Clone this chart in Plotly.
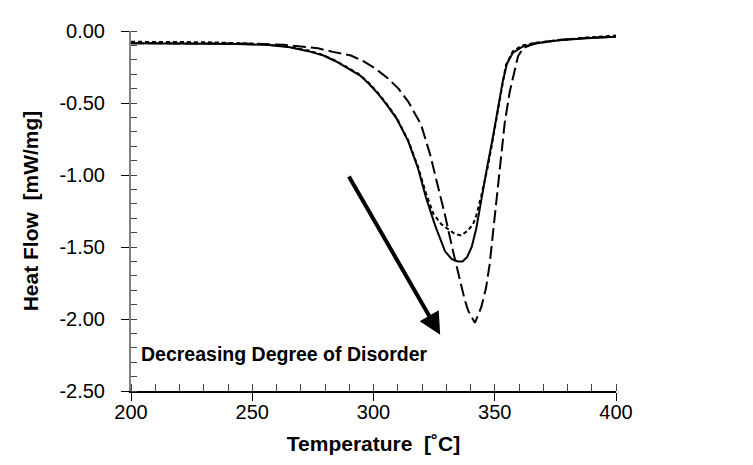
import plotly.graph_objects as go

# ---- data ----
solid_T = [200, 225.2, 244.1, 256.7, 265.5, 273.1, 279.4, 284.4, 289.5, 294.5, 298.3, 302.1, 305.8,
           309.6, 314.3, 318.3, 321.7, 325.4, 329.5, 332.3, 334.8, 336.7, 338.6, 340.5, 342.4, 344.5,
           346.8, 349.1, 351.2, 353.3, 355.0, 357.5, 361.3, 367.6, 376.4, 388, 400]
solid_HF = [-0.085, -0.086, -0.09, -0.098, -0.113, -0.14, -0.17, -0.21, -0.26, -0.31, -0.37, -0.44,
            -0.52, -0.61, -0.765, -0.95, -1.16, -1.35, -1.53, -1.585, -1.60, -1.60, -1.57, -1.50,
            -1.37, -1.16, -0.95, -0.75, -0.55, -0.35, -0.23, -0.15, -0.11, -0.085, -0.065, -0.05,
            -0.04]

dot_T = [200, 231.5, 250.4, 263, 273.1, 279.4, 284.4, 289.5, 294.5, 298.3, 302.1, 305.8, 309.6, 314.3,
         318.3, 321.7, 324.7, 327.9, 331.0, 333.6, 336.1, 338.6, 341.0, 342.4, 344.5, 347.3, 349.3,
         351.3, 353.5, 354.6, 357.5, 361.3, 367.6, 376.4, 388, 400]
dot_HF = [-0.075, -0.078, -0.088, -0.105, -0.135, -0.168, -0.207, -0.255, -0.305, -0.365, -0.435,
          -0.515, -0.605, -0.76, -0.94, -1.13, -1.27, -1.34, -1.38, -1.41, -1.42, -1.39, -1.345, -1.28,
          -1.14, -0.93, -0.744, -0.557, -0.35, -0.236, -0.14, -0.10, -0.08, -0.063, -0.045, -0.032]

dash_T = [200, 231.5, 250.4, 263, 269.3, 277.1, 283.2, 290.7, 295.8, 300.7, 306.0, 310.3, 314.3, 319.6,
          323.4, 326.6, 329.5, 332.8, 334.8, 337.6, 339.0, 341.8, 344.4, 346.4, 347.9, 349.3, 350.6,
          351.6, 352.6, 354.1, 356.2, 358.3, 359.6, 361.7, 366.3, 376.4, 388, 400]
dash_HF = [-0.085, -0.085, -0.088, -0.095, -0.105, -0.12, -0.145, -0.17, -0.21, -0.26, -0.33, -0.40,
           -0.49, -0.65, -0.86, -1.07, -1.28, -1.53, -1.67, -1.865, -1.94, -2.027, -1.92, -1.785,
           -1.62, -1.40, -1.22, -1.06, -0.88, -0.64, -0.42, -0.26, -0.175, -0.12, -0.085, -0.062,
           -0.048, -0.04]

x_ticks = [200, 250, 300, 350, 400]
x_tick_labels = ["200", "250", "300", "350", "400"]
y_ticks = [0.0, -0.5, -1.0, -1.5, -2.0, -2.5]
y_tick_labels = ["0.00", "-0.50", "-1.00", "-1.50", "-2.00", "-2.50"]

arrow_start = (289.5, -1.0)
arrow_end = (327.5, -2.11)
note_pos = (203.5, -2.24)
note_text = "Decreasing Degree of Disorder"

FONT = "Liberation Sans, Arial, sans-serif"

fig = go.Figure()
fig.add_trace(go.Scatter(x=solid_T, y=solid_HF, mode="lines", line=dict(color="black", width=2),
                         showlegend=False))
fig.add_trace(go.Scatter(x=dot_T, y=dot_HF, mode="lines",
                         line=dict(color="black", width=2, dash="4px,3px"), showlegend=False))
fig.add_trace(go.Scatter(x=dash_T, y=dash_HF, mode="lines",
                         line=dict(color="black", width=2, dash="13px,5px"), showlegend=False))

fig.add_annotation(x=arrow_end[0], y=arrow_end[1], ax=arrow_start[0], ay=arrow_start[1],
                   xref="x", yref="y", axref="x", ayref="y", text="", showarrow=True,
                   arrowhead=2, arrowsize=1.1, arrowwidth=4, arrowcolor="black", standoff=0)
fig.add_annotation(x=note_pos[0], y=note_pos[1], xref="x", yref="y", text="<b>" + note_text + "</b>",
                   showarrow=False, xanchor="left", yanchor="middle",
                   font=dict(family=FONT, size=19.5, color="black"))

fig.update_xaxes(range=[200, 400], tickvals=x_ticks, ticktext=x_tick_labels,
                 showline=True, linecolor="black", linewidth=1.5,
                 ticks="outside", ticklen=8, tickcolor="black", tickwidth=1,
                 ticklabelstandoff=-6,
                 minor=dict(dtick=10, tick0=200, ticks="inside", ticklen=7, tickcolor="#444", tickwidth=1),
                 showgrid=False, zeroline=False,
                 tickfont=dict(family=FONT, size=20, color="black"),
                 title=dict(text="<b>Temperature\u00a0 [˚C]</b>", font=dict(family=FONT, size=21, color="black"),
                            standoff=15))
fig.update_yaxes(range=[-2.5, 0], tickvals=y_ticks, ticktext=y_tick_labels,
                 showline=True, linecolor="#808080", linewidth=2,
                 ticks="outside", ticklen=8, tickcolor="black", tickwidth=1,
                 ticklabelstandoff=12,
                 minor=dict(dtick=0.1, tick0=0, ticks="inside", ticklen=6, tickcolor="#444", tickwidth=1),
                 showgrid=False, zeroline=False,
                 tickfont=dict(family=FONT, size=20, color="black"),
                 title=dict(text="<b>Heat Flow\u00a0 [mW/mg]</b>", font=dict(family=FONT, size=21, color="black"),
                            standoff=15))

fig.update_layout(width=753, height=465, margin=dict(l=123, r=145, t=23, b=82, autoexpand=False),
                  plot_bgcolor="white", paper_bgcolor="white", showlegend=False)

fig.write_html("out.html")
